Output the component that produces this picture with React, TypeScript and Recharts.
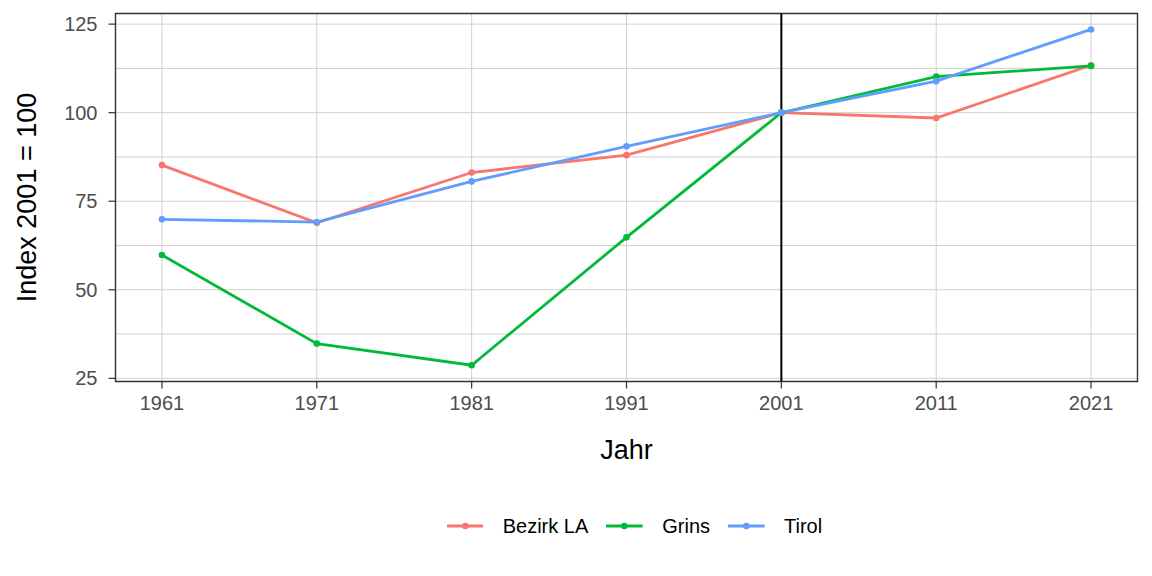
import React from 'react';
import {
  LineChart, Line, XAxis, YAxis, CartesianGrid, Legend, ReferenceLine, ReferenceArea
} from 'recharts';

const years = [1961, 1971, 1981, 1991, 2001, 2011, 2021];
const bezirkLA = [85.2, 68.9, 83.1, 88.0, 100, 98.5, 113.4];
const grins = [59.8, 34.8, 28.7, 64.8, 100, 110.2, 113.2];
const tirol = [69.9, 69.1, 80.6, 90.5, 100, 108.9, 123.5];

const yTicks = [25, 50, 75, 100, 125];
const yGrid = [25, 37.5, 50, 62.5, 75, 87.5, 100, 112.5, 125];
const xDomain = [1958, 2024];
const yDomain = [24.1, 128];

const data = years.map((year, i) => ({
  year,
  bezirk: bezirkLA[i],
  grins: grins[i],
  tirol: tirol[i],
}));

const FONT = '"Liberation Sans", Arial, sans-serif';
const tickStyle = { fill: '#4d4d4d', fontSize: 20, fontFamily: FONT };

const renderLegend = (props: any) => {
  const { payload } = props;
  return (
    <div style={{ display: 'flex', alignItems: 'center', marginLeft: 446.7, height: 30, fontFamily: FONT }}>
      {(payload || []).map((p: any) => (
        <div key={p.value} style={{ display: 'flex', alignItems: 'center', marginRight: 18 }}>
          <svg width={36.6} height={12} style={{ display: 'block' }}>
            <line x1={0} y1={6} x2={36.6} y2={6} stroke={p.color} strokeWidth={2.8} />
            <circle cx={18.3} cy={6} r={3.3} fill={p.color} />
          </svg>
          <span style={{ marginLeft: 19.4, fontSize: 20, color: '#000' }}>{p.value}</span>
        </div>
      ))}
    </div>
  );
};

export default function App() {
  return (
    <div style={{ position: 'absolute', left: 0, top: 0, width: 1152, height: 576, background: '#fff', fontFamily: FONT }}>
      <LineChart width={1152} height={576} data={data} margin={{ top: 13.5, right: 14.5, bottom: 0, left: 0 }}>
        <CartesianGrid stroke="#d0d0d0" strokeWidth={1} horizontalValues={yGrid} verticalValues={years} />
        <XAxis
          type="number"
          dataKey="year"
          domain={xDomain}
          ticks={years}
          interval={0}
          height={194.5}
          tickSize={7}
          tickMargin={7.5}
          axisLine={false}
          tickLine={{ stroke: '#333333', strokeWidth: 1.2 }}
          tick={tickStyle}
          label={{ value: 'Jahr', position: 'insideTop', offset: 58, fill: '#000', fontSize: 27, fontFamily: FONT }}
        />
        <YAxis
          type="number"
          domain={yDomain}
          ticks={yTicks}
          interval={0}
          width={115.5}
          tickSize={7}
          tickMargin={11}
          axisLine={false}
          tickLine={{ stroke: '#333333', strokeWidth: 1.2 }}
          tick={tickStyle}
          allowDataOverflow
          label={{
            value: 'Index 2001 = 100', angle: -90, position: 'insideLeft', offset: 26,
            fill: '#000', fontSize: 27, fontFamily: FONT, style: { textAnchor: 'middle' },
          }}
        />
        <ReferenceLine x={2001} stroke="#000000" strokeWidth={2} />
        <Line type="linear" dataKey="bezirk" name="Bezirk LA" stroke="#F8766D" strokeWidth={2.8}
          dot={{ r: 3.3, fill: '#F8766D', stroke: '#F8766D', strokeWidth: 0 }} activeDot={false} isAnimationActive={false} />
        <Line type="linear" dataKey="grins" name="Grins" stroke="#00BA38" strokeWidth={2.8}
          dot={{ r: 3.3, fill: '#00BA38', stroke: '#00BA38', strokeWidth: 0 }} activeDot={false} isAnimationActive={false} />
        <Line type="linear" dataKey="tirol" name="Tirol" stroke="#619CFF" strokeWidth={2.8}
          dot={{ r: 3.3, fill: '#619CFF', stroke: '#619CFF', strokeWidth: 0 }} activeDot={false} isAnimationActive={false} />
        <ReferenceArea x1={xDomain[0]} x2={xDomain[1]} y1={yDomain[0]} y2={yDomain[1]}
          fill="none" fillOpacity={0} stroke="#333333" strokeWidth={1.4} ifOverflow="visible" />
        <Legend verticalAlign="middle" align="center" content={renderLegend}
          wrapperStyle={{ top: 511, left: 0, width: 1152 }} />
      </LineChart>
    </div>
  );
}
